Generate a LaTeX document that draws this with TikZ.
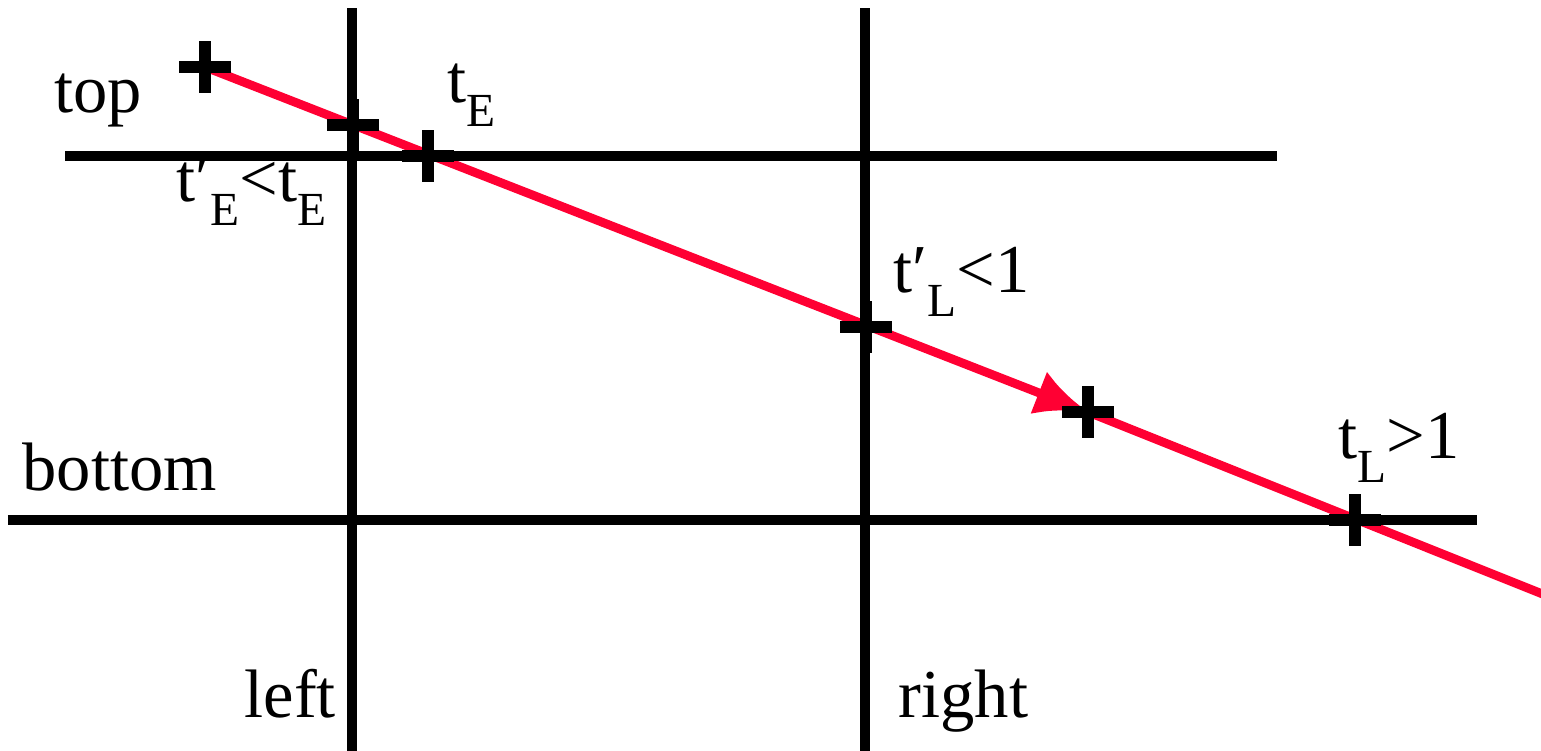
\documentclass[tikz,border=0pt]{standalone}
\usepackage{fontspec}
\setmainfont{Liberation Serif}
\usetikzlibrary{arrows.meta, positioning}
\definecolor{cred}{HTML}{FF0033}
\tikzset{
  every picture/.style={line width=2.6pt},
  wall/.style={draw=black, line width=2.8pt},
  ray/.style={draw=cred, line width=2.5pt},
  lbl/.style={font=\fontsize{19.5}{22}\selectfont, inner sep=0pt, anchor=base west},
}
\newcommand{\lsub}[1]{\raisebox{-0.36em}{\fontsize{13.5}{14}\selectfont #1}}

\begin{document}
\begin{tikzpicture}[x=0.01cm, y=-0.01cm, crossmark/.style={draw=black, line width=3.4pt}]
  \useasboundingbox (0,0) rectangle (1541,750);
  % clip lines
  \coordinate (leftA) at (352,8);   \coordinate (leftB) at (352,760);
  \coordinate (rightA) at (865,8);  \coordinate (rightB) at (865,760);
  \coordinate (topA) at (65,156);   \coordinate (topB) at (1277,156);
  \coordinate (botA) at (8,520);    \coordinate (botB) at (1477,520);
  % points on the ray
  \coordinate (P0) at (205,67);
  \coordinate (P1) at (353,125);
  \coordinate (P2) at (428,156);
  \coordinate (P3) at (866,327);
  \coordinate (P4) at (1088,412);
  \coordinate (P5) at (1355,520);
  \coordinate (rayEnd) at (1545,595);
  \draw[ray, -{Latex[length=15pt, width=13pt]}] (P0) -- (P4);
  \draw[ray] (P4) -- (rayEnd);
  \draw[wall] (leftA) -- (leftB);
  \draw[wall] (rightA) -- (rightB);
  \draw[wall] (topA) -- (topB);
  \draw[wall] (botA) -- (botB);
  \foreach \p in {P0, P1, P2, P3, P4, P5}
    \draw[crossmark] (\p) +(-26,0) -- +(26,0) +(0,-26) -- +(0,26);
  % labels
  \node[lbl] (top) at (50,112) {top};
  \node[lbl] (bottom) at (18,490) {bottom};
  \node[lbl] (left) at (240,717) {left};
  \node[lbl] (right) at (894,717) {right};
  \node[lbl] (tE) at (443,102) {t\lsub{E}};
  \node[lbl] (tEp) at (172,201) {t′\lsub{E}<t\lsub{E}};
  \node[lbl] (tLp) at (889,292) {t′\lsub{L}<1};
  \node[lbl] (tL) at (1334,458) {t\lsub{L}>1};
\end{tikzpicture}
\end{document}
